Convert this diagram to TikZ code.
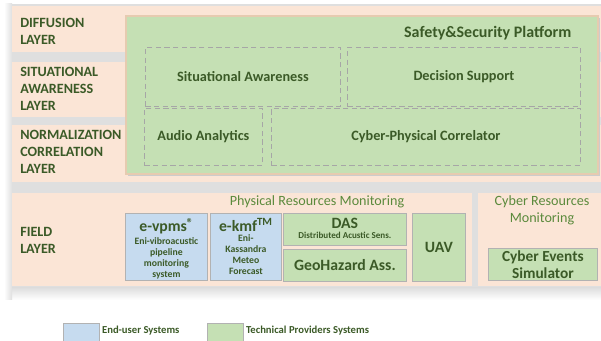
\documentclass[tikz,border=0pt]{standalone}
\usepackage{fontspec}
\setmainfont{Carlito}
\usepackage{xcolor}
\usetikzlibrary{positioning}

\definecolor{bandbeige}{HTML}{FBE5D6}
\definecolor{provgreen}{HTML}{C5E0B4}
\definecolor{userblue}{HTML}{C6DBEF}
\definecolor{textgreen}{HTML}{3B5A27}
\definecolor{midgreen}{HTML}{5B8A3C}
\definecolor{rimtan}{HTML}{E6CBB0}
\definecolor{slotgray}{HTML}{A6A6A6}

\tikzset{
  band/.style={fill=bandbeige, draw=none},
  layertext/.style={anchor=west, align=left, font=\bfseries\fontsize{10.6}{12.8}\selectfont, text=textgreen, inner sep=0pt},
  platform/.style={fill=provgreen, draw=rimtan, line width=1.5pt, anchor=north west},
  slot/.style={draw=slotgray, dashed, dash pattern=on 4pt off 2.5pt, line width=0.6pt, anchor=north west,
    font=\bfseries\fontsize{10.7}{12}\selectfont, text=textgreen},
  fieldbox/.style={draw=gray!60, line width=0.6pt, anchor=north west, align=center, text=textgreen, inner sep=1pt},
  enduser/.style={fieldbox, fill=userblue},
  provider/.style={fieldbox, fill=provgreen},
  groupname/.style={font=\fontsize{10.6}{12.5}\selectfont, text=midgreen, align=center},
  legendbox/.style={draw=gray!60, line width=0.6pt, minimum width=27pt, minimum height=14pt, anchor=north west, inner sep=0pt},
  legendtext/.style={anchor=west, font=\bfseries\fontsize{8}{9}\selectfont, text=textgreen, inner sep=0pt},
  big/.style={font=\bfseries\fontsize{11.8}{13}\selectfont},
  tiny/.style={font=\bfseries\fontsize{7.3}{8.3}\selectfont}
}

\begin{document}
\begin{tikzpicture}[x=0.75pt,y=-0.75pt]
  \useasboundingbox (0,0) rectangle (601,341);
  % grey backdrop with soft lower edge
  \fill[gray!25] (12,4) rectangle (601,288);
  \shade[top color=gray!25, bottom color=white] (12,288) rectangle (601,300);
  \shade[left color=white, right color=gray!25] (4,4) rectangle (12,300);

  % layer bands
  \fill[band] (12,6) rectangle (601,52);
  \fill[band] (12,62) rectangle (601,117);
  \fill[band] (12,125) rectangle (601,182);
  \fill[band] (12,193) rectangle (472,286);
  \fill[band] (478,193) rectangle (601,286);

  \node[layertext] (diffusion) at (20,31) {DIFFUSION\\LAYER};
  \node[layertext] (situational) at (20,89) {SITUATIONAL\\AWARENESS\\LAYER};
  \node[layertext] (normalization) at (20,152) {NORMALIZATION\\CORRELATION\\LAYER};
  \node[layertext] (field) at (20,240) {FIELD\\LAYER};

  % platform and its modules
  \fill[gray!40] (128,18) rectangle (600,176);
  \node[platform, minimum width=472*0.75pt, minimum height=158*0.75pt] (platform) at (125,15) {};
  \node[anchor=east, font=\bfseries\fontsize{12}{14}\selectfont, text=textgreen] (platformname) at (576,33) {Safety\&Security Platform};
  \node[slot, minimum width=195*0.75pt, minimum height=59*0.75pt] (awareness) at (145,47) {Situational Awareness};
  \node[slot, minimum width=233*0.75pt, minimum height=59*0.75pt] (decision) at (347,47) {Decision Support};
  \node[slot, minimum width=118*0.75pt, minimum height=57*0.75pt] (audio) at (144,108) {Audio Analytics};
  \node[slot, minimum width=309*0.75pt, minimum height=57*0.75pt] (correlator) at (271,108) {Cyber-Physical Correlator};

  % field systems
  \node[groupname] (physical) at (317,202) {Physical Resources Monitoring};
  \node[groupname] (cyber) at (542,210) {Cyber Resources\\Monitoring};

  \node[enduser, minimum width=82*0.75pt, minimum height=67*0.75pt] (evpms) at (125,213) {};
  \node[big, text=textgreen, anchor=north] (evpmsname) at ([yshift=-0.5pt]evpms.north) {e-vpms\raisebox{0.55ex}{\fontsize{9.5}{9.5}\selectfont\textregistered}};
  \node[tiny, text=textgreen, align=center, anchor=north] (evpmstext) at ([yshift=4.5pt]evpms.north |- evpmsname.south) {Eni-vibroacustic\\pipeline\\monitoring\\system};

  \node[enduser, minimum width=71*0.75pt, minimum height=67*0.75pt] (ekmf) at (210,213) {};
  \node[big, text=textgreen, anchor=north] (ekmfname) at ([yshift=-0.5pt]ekmf.north) {e-kmf\textsuperscript{TM}};
  \node[tiny, text=textgreen, align=center, anchor=north] (ekmftext) at ([yshift=4.5pt]ekmfname.south) {Eni-\\Kassandra\\Meteo\\Forecast};

  \node[provider, minimum width=123*0.75pt, minimum height=32*0.75pt] (das) at (283,213) {};
  \node[big, text=textgreen, anchor=north] (dasname) at ([yshift=0pt]das.north) {DAS};
  \node[tiny, font=\bfseries\fontsize{6.8}{8}\selectfont, text=textgreen, anchor=north] (dastext) at ([yshift=4pt]dasname.south) {Distributed Acustic Sens.};
  \node[provider, big, minimum width=123*0.75pt, minimum height=32*0.75pt] (geohazard) at (283,249) {GeoHazard Ass.};
  \node[provider, big, minimum width=53*0.75pt, minimum height=68*0.75pt] (uav) at (412,213) {UAV};
  \node[provider, font=\bfseries\fontsize{11.5}{13}\selectfont, minimum width=109*0.75pt, minimum height=32*0.75pt] (simulator) at (488,248) {Cyber Events\\Simulator};

  % legend
  \node[legendbox, fill=userblue] (userkey) at (63,323) {};
  \node[legendtext, right=1.5pt of userkey.north east, yshift=-6pt] (userlabel) {End-user Systems};
  \node[legendbox, fill=provgreen] (provkey) at (207,323) {};
  \node[legendtext, right=1.5pt of provkey.north east, yshift=-6pt] (provlabel) {Technical Providers Systems};
\end{tikzpicture}
\end{document}
